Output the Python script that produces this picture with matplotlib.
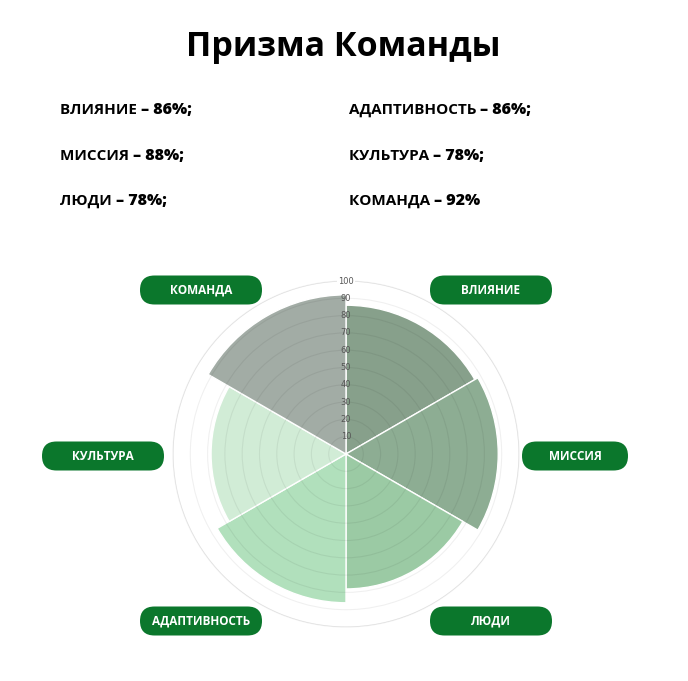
import matplotlib.pyplot as plt
import numpy as np
from matplotlib.patches import FancyBboxPatch

title = 'Призма Команды'
categories = ['ВЛИЯНИЕ', 'МИССИЯ', 'ЛЮДИ', 'АДАПТИВНОСТЬ', 'КУЛЬТУРА', 'КОМАНДА']
values = [86, 88, 78, 86, 78, 92]
colors = ['#87a08b', '#8dad93', '#9bcaa4', '#b1e0bc', '#d1ecd6', '#a2aca5']
rticks = [10, 20, 30, 40, 50, 60, 70, 80, 90, 100]

# text list at the top: left column then right column
left_items = [0, 1, 2]
right_items = [3, 4, 5]

# pill positions in pixels (centre x, centre y), same order as categories
pill_pos = [(491, 290), (575, 456), (491, 621), (201, 621), (103, 456), (201, 290)]
pill_w = [122, 106, 122, 122, 122, 122]

W, H = 688, 681
fig = plt.figure(figsize=(W / 100, H / 100), dpi=100)
fig.patch.set_facecolor('white')

# overlay axes in pixel units for the pills and texts
bg = fig.add_axes([0, 0, 1, 1])
bg.set_xlim(0, W)
bg.set_ylim(H, 0)
bg.axis('off')

bg.text(343, 47, title, ha='center', va='center',
        fontsize=24.5, fontweight='bold', family='Open Sans', color='black')

def stat_line(x, y, name, val, last):
    t = bg.text(x, y, name + ' ', ha='left', va='center',
                fontsize=11, fontweight='bold', family='Open Sans', color='black')
    fig.canvas.draw()
    bb = t.get_window_extent()
    end = '%' if last else '%;'
    fig.text(bb.x1 / W, 1 - y / H, '– ' + str(val) + end, ha='left', va='center',
             fontsize=11.5, fontweight='extra bold', family='Open Sans', color='black')

ys = [110, 156, 201]
for k, i in enumerate(left_items):
    stat_line(60, ys[k], categories[i], values[i], False)
for k, i in enumerate(right_items):
    stat_line(349, ys[k], categories[i], values[i], i == right_items[-1])

# polar area chart
cx, cy, R = 346, 454, 173
ax = fig.add_axes([(cx - R) / W, (H - cy - R) / H, 2 * R / W, 2 * R / H], projection='polar')
ax.set_theta_zero_location('N')
ax.set_theta_direction(-1)
n = len(values)
width = 2 * np.pi / n
theta = np.arange(n) * width
ax.bar(theta, values, width=width, align='edge', color=colors,
       edgecolor='white', linewidth=1.0, zorder=1)
ax.set_ylim(0, 100)
ax.set_xticks([])
ax.set_yticks(rticks)
ax.set_yticklabels([])
ax.grid(True, color='black', alpha=0.06, linewidth=0.8, zorder=3)
ax.set_axisbelow(False)
ax.spines['polar'].set_color('#ededed')
ax.spines['polar'].set_linewidth(0.8)
for r in rticks:
    box = dict(facecolor='white', edgecolor='none', pad=1) if r == 100 else None
    ax.text(0, r, str(r), ha='center', va='center', fontsize=6,
            color='#555555', bbox=box, zorder=5)

# green pills with the category names
for i, name in enumerate(categories):
    px, py = pill_pos[i]
    w, h = pill_w[i], 29
    p = FancyBboxPatch((px - w / 2, py - h / 2), w, h,
                       boxstyle='round,pad=0,rounding_size=%f' % (h / 2),
                       facecolor='#0b772c', edgecolor='none')
    bg.add_patch(p)
    bg.text(px, py, name, ha='center', va='center', fontsize=8.5,
            fontweight='bold', family='Open Sans', color='white')

fig.savefig('out.png', dpi=100, facecolor='white')
